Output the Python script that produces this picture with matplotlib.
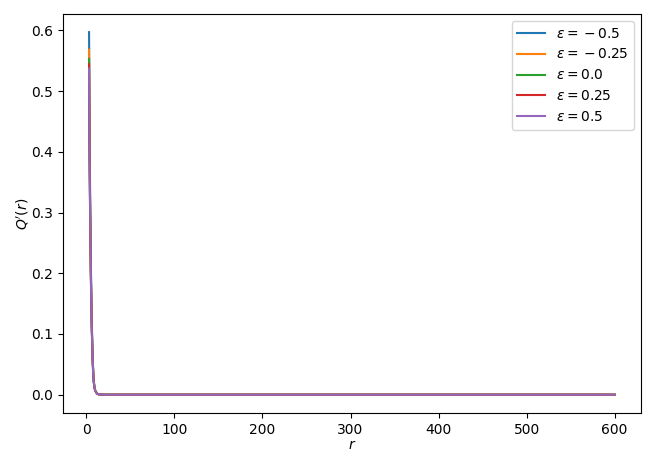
import numpy as np
import matplotlib
matplotlib.use("Agg")
import matplotlib.pyplot as plt

# --- DATA ---
eps_values = [-0.5, -0.25, 0.0, 0.25, 0.5]
r = [3, 3.5, 4, 4.5, 5, 6, 7, 8, 9, 10, 12, 14, 20, 30, 600]

q_m050 = [0.597, 0.450, 0.360, 0.290, 0.220, 0.125, 0.065, 0.028, 0.014, 0.007, 0.0020, 0.0005, 0.0, 0.0, 0.0]
q_m025 = [0.568, 0.428, 0.343, 0.276, 0.209, 0.119, 0.062, 0.027, 0.013, 0.0067, 0.0019, 0.0005, 0.0, 0.0, 0.0]
q_000 = [0.553, 0.417, 0.333, 0.269, 0.204, 0.116, 0.060, 0.026, 0.013, 0.0065, 0.0019, 0.0005, 0.0, 0.0, 0.0]
q_p025 = [0.544, 0.410, 0.328, 0.264, 0.200, 0.114, 0.059, 0.026, 0.013, 0.0064, 0.0018, 0.0005, 0.0, 0.0, 0.0]
q_p050 = [0.537, 0.405, 0.324, 0.261, 0.198, 0.112, 0.058, 0.025, 0.013, 0.0063, 0.0018, 0.0005, 0.0, 0.0, 0.0]

series = [q_m050, q_m025, q_000, q_p025, q_p050]

# --- PLOT ---
fig, ax = plt.subplots(figsize=(6.54, 4.67), dpi=100)
for eps, q in zip(eps_values, series):
    # "{}" before the sign makes mathtext space the minus as a binary op,
    # like older matplotlib did: "ε = − 0.5"
    ax.plot(r, q, label=r"$\epsilon = {}%s$" % eps)

ax.set_xlabel(r"$r$", labelpad=1)
ax.set_ylabel(r"$Q'(r)$", labelpad=0)
ax.legend(loc="upper right")
fig.subplots_adjust(left=0.096, right=0.980, top=0.970, bottom=0.116)
fig.savefig("out.png")
